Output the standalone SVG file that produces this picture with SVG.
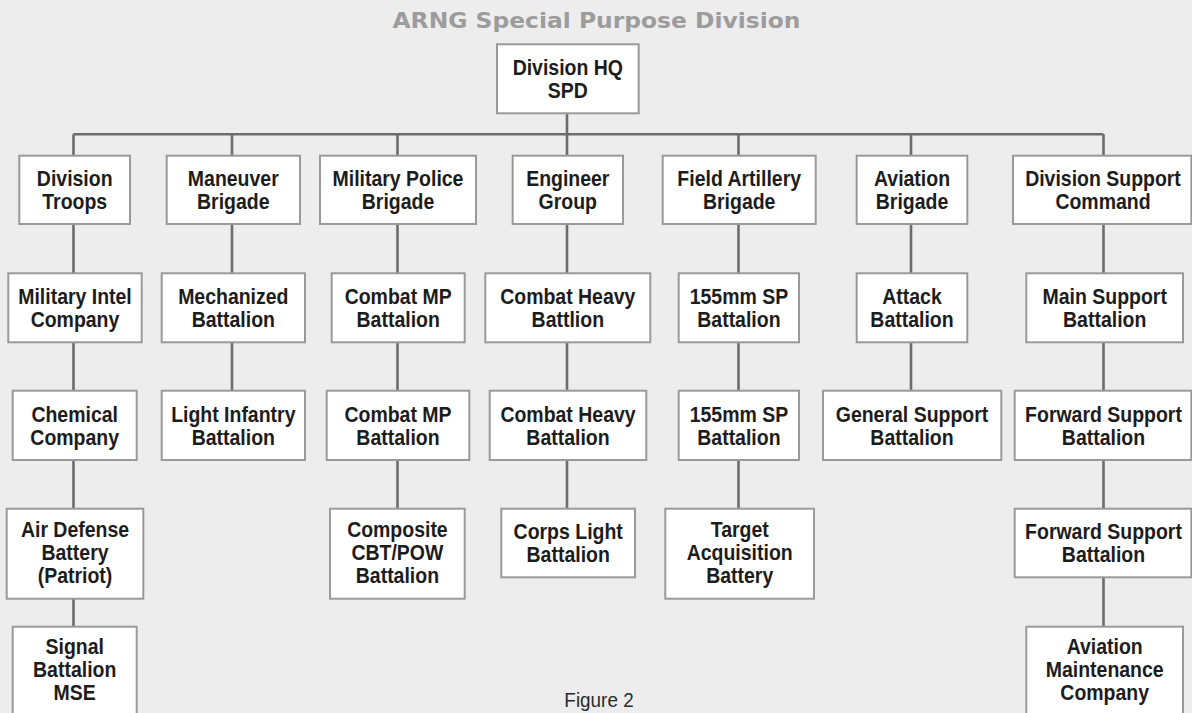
<svg xmlns="http://www.w3.org/2000/svg" width="1192" height="713" viewBox="0 0 1192 713">
<style>
.bg{fill:#ededed}
.box{fill:#ffffff;stroke:#9a9a9a;stroke-width:2}
.lbl{font-family:"Liberation Sans",Arial,Helvetica,sans-serif;font-weight:bold;font-size:22px;fill:#1c1c1c;text-anchor:middle}
.conn{stroke:#6c6c6c;stroke-width:2.6;fill:none}
.title{font-family:"DejaVu Sans","Liberation Sans",sans-serif;font-weight:bold;font-size:22px;fill:#9c9c9c;text-anchor:middle}
.fig{font-family:"Liberation Sans",Arial,sans-serif;font-size:21px;fill:#2a2a2a;text-anchor:middle}
</style>
<rect class="bg" x="0" y="0" width="1192" height="713"/>
<text class="title" x="596.5" y="27.5" textLength="408" lengthAdjust="spacingAndGlyphs">ARNG Special Purpose Division</text>

<g id="connectors">
  <path class="conn" d="M567 113.3V134.3M73.5 134.3H1103.5"/>
  <path class="conn" d="M73.5 134.3V155.7M232 134.3V155.7M397.5 134.3V155.7M567 134.3V155.7M738.5 134.3V155.7M911 134.3V155.7M1103.5 134.3V155.7"/>
  <path class="conn" d="M73.5 224V273.3M73.5 342.3V390.7M73.5 460V508.7M73.5 598.7V626.7"/>
  <path class="conn" d="M232 224V273.3M232 342.3V390.7"/>
  <path class="conn" d="M397.5 224V273.3M397.5 342.3V390.7M397.5 460V508.7"/>
  <path class="conn" d="M567 224V273.3M567 342.3V390.7M567 460V508.7"/>
  <path class="conn" d="M738.5 224V273.3M738.5 342.3V390.7M738.5 460V508.7"/>
  <path class="conn" d="M911 224V273.3M911 342.3V390.7"/>
  <path class="conn" d="M1103.5 224V273.3M1103.5 342.3V390.7M1103.5 460V508.7M1103.5 577.3V626.7"/>
</g>

<g id="division-hq">
  <rect class="box" x="497" y="44.3" width="141.7" height="69"/>
  <text class="lbl" transform="translate(567.8 0) scale(0.885 1)"><tspan x="0" y="75.5">Division HQ</tspan><tspan x="0" y="98.5">SPD</tspan></text>
</g>

<g id="division-troops">
  <rect class="box" x="19.3" y="155.7" width="110.7" height="68.3"/>
  <text class="lbl" transform="translate(74.7 0) scale(0.885 1)"><tspan x="0" y="186.2">Division</tspan><tspan x="0" y="209.2">Troops</tspan></text>
</g>
<g id="maneuver-brigade">
  <rect class="box" x="166.7" y="155.7" width="133.3" height="68.3"/>
  <text class="lbl" transform="translate(233.3 0) scale(0.885 1)"><tspan x="0" y="186.2">Maneuver</tspan><tspan x="0" y="209.2">Brigade</tspan></text>
</g>
<g id="mp-brigade">
  <rect class="box" x="320" y="155.7" width="156" height="68.3"/>
  <text class="lbl" transform="translate(398 0) scale(0.885 1)"><tspan x="0" y="186.2">Military Police</tspan><tspan x="0" y="209.2">Brigade</tspan></text>
</g>
<g id="engineer-group">
  <rect class="box" x="512.7" y="155.7" width="110.3" height="68.3"/>
  <text class="lbl" transform="translate(567.8 0) scale(0.885 1)"><tspan x="0" y="186.2">Engineer</tspan><tspan x="0" y="209.2">Group</tspan></text>
</g>
<g id="fa-brigade">
  <rect class="box" x="662.7" y="155.7" width="153" height="68.3"/>
  <text class="lbl" transform="translate(739.2 0) scale(0.885 1)"><tspan x="0" y="186.2">Field Artillery</tspan><tspan x="0" y="209.2">Brigade</tspan></text>
</g>
<g id="aviation-brigade">
  <rect class="box" x="856.7" y="155.7" width="110.6" height="68.3"/>
  <text class="lbl" transform="translate(912 0) scale(0.885 1)"><tspan x="0" y="186.2">Aviation</tspan><tspan x="0" y="209.2">Brigade</tspan></text>
</g>
<g id="discom">
  <rect class="box" x="1013" y="155.7" width="178.3" height="68.3"/>
  <text class="lbl" transform="translate(1103 0) scale(0.885 1)"><tspan x="0" y="186.2">Division Support</tspan><tspan x="0" y="209.2">Command</tspan></text>
</g>

<g id="mi-company">
  <rect class="box" x="8.3" y="273.3" width="133.4" height="69"/>
  <text class="lbl" transform="translate(75 0) scale(0.885 1)"><tspan x="0" y="304.2">Military Intel</tspan><tspan x="0" y="327.2">Company</tspan></text>
</g>
<g id="mech-battalion">
  <rect class="box" x="161.7" y="273.3" width="143.3" height="69"/>
  <text class="lbl" transform="translate(233.3 0) scale(0.885 1)"><tspan x="0" y="304.2">Mechanized</tspan><tspan x="0" y="327.2">Battalion</tspan></text>
</g>
<g id="combat-mp-1">
  <rect class="box" x="331.7" y="273.3" width="133" height="69"/>
  <text class="lbl" transform="translate(398.2 0) scale(0.885 1)"><tspan x="0" y="304.2">Combat MP</tspan><tspan x="0" y="327.2">Battalion</tspan></text>
</g>
<g id="combat-heavy-1">
  <rect class="box" x="485.3" y="273.3" width="165" height="69"/>
  <text class="lbl" transform="translate(567.8 0) scale(0.885 1)"><tspan x="0" y="304.2">Combat Heavy</tspan><tspan x="0" y="327.2">Battlion</tspan></text>
</g>
<g id="sp155-1">
  <rect class="box" x="678.7" y="273.3" width="120.3" height="69"/>
  <text class="lbl" transform="translate(738.9 0) scale(0.885 1)"><tspan x="0" y="304.2">155mm SP</tspan><tspan x="0" y="327.2">Battalion</tspan></text>
</g>
<g id="attack-battalion">
  <rect class="box" x="856.7" y="273.3" width="110.6" height="69"/>
  <text class="lbl" transform="translate(912 0) scale(0.885 1)"><tspan x="0" y="304.2">Attack</tspan><tspan x="0" y="327.2">Battalion</tspan></text>
</g>
<g id="main-support">
  <rect class="box" x="1026.3" y="273.3" width="156.7" height="69"/>
  <text class="lbl" transform="translate(1104.7 0) scale(0.885 1)"><tspan x="0" y="304.2">Main Support</tspan><tspan x="0" y="327.2">Battalion</tspan></text>
</g>

<g id="chemical-company">
  <rect class="box" x="12.7" y="390.7" width="124" height="69.3"/>
  <text class="lbl" transform="translate(74.7 0) scale(0.885 1)"><tspan x="0" y="421.7">Chemical</tspan><tspan x="0" y="444.7">Company</tspan></text>
</g>
<g id="light-infantry">
  <rect class="box" x="161.7" y="390.7" width="143.3" height="69.3"/>
  <text class="lbl" transform="translate(233.3 0) scale(0.885 1)"><tspan x="0" y="421.7">Light Infantry</tspan><tspan x="0" y="444.7">Battalion</tspan></text>
</g>
<g id="combat-mp-2">
  <rect class="box" x="326.7" y="390.7" width="142.6" height="69.3"/>
  <text class="lbl" transform="translate(398 0) scale(0.885 1)"><tspan x="0" y="421.7">Combat MP</tspan><tspan x="0" y="444.7">Battalion</tspan></text>
</g>
<g id="combat-heavy-2">
  <rect class="box" x="489.7" y="390.7" width="156.6" height="69.3"/>
  <text class="lbl" transform="translate(568 0) scale(0.885 1)"><tspan x="0" y="421.7">Combat Heavy</tspan><tspan x="0" y="444.7">Battalion</tspan></text>
</g>
<g id="sp155-2">
  <rect class="box" x="678.7" y="390.7" width="120.3" height="69.3"/>
  <text class="lbl" transform="translate(738.9 0) scale(0.885 1)"><tspan x="0" y="421.7">155mm SP</tspan><tspan x="0" y="444.7">Battalion</tspan></text>
</g>
<g id="general-support">
  <rect class="box" x="823" y="390.7" width="178.3" height="69.3"/>
  <text class="lbl" transform="translate(912 0) scale(0.885 1)"><tspan x="0" y="421.7">General Support</tspan><tspan x="0" y="444.7">Battalion</tspan></text>
</g>
<g id="forward-support-1">
  <rect class="box" x="1014.7" y="390.7" width="176.6" height="69.3"/>
  <text class="lbl" transform="translate(1103.5 0) scale(0.885 1)"><tspan x="0" y="421.7">Forward Support</tspan><tspan x="0" y="444.7">Battalion</tspan></text>
</g>

<g id="air-defense">
  <rect class="box" x="6.7" y="508.7" width="136.6" height="90"/>
  <text class="lbl" transform="translate(75 0) scale(0.885 1)"><tspan x="0" y="537.5">Air Defense</tspan><tspan x="0" y="560.5">Battery</tspan><tspan x="0" y="583.5">(Patriot)</tspan></text>
</g>
<g id="composite">
  <rect class="box" x="330" y="508.7" width="134.7" height="90"/>
  <text class="lbl" transform="translate(397.4 0) scale(0.885 1)"><tspan x="0" y="537.5">Composite</tspan><tspan x="0" y="560.5">CBT/POW</tspan><tspan x="0" y="583.5">Battalion</tspan></text>
</g>
<g id="corps-light">
  <rect class="box" x="501.3" y="508.7" width="133.7" height="68.6"/>
  <text class="lbl" transform="translate(568.2 0) scale(0.885 1)"><tspan x="0" y="539.4">Corps Light</tspan><tspan x="0" y="562.4">Battalion</tspan></text>
</g>
<g id="target-acquisition">
  <rect class="box" x="665.3" y="508.7" width="148.7" height="90"/>
  <text class="lbl" transform="translate(739.7 0) scale(0.885 1)"><tspan x="0" y="537.5">Target</tspan><tspan x="0" y="560.5">Acquisition</tspan><tspan x="0" y="583.5">Battery</tspan></text>
</g>
<g id="forward-support-2">
  <rect class="box" x="1014.7" y="508.7" width="176.6" height="68.6"/>
  <text class="lbl" transform="translate(1103.5 0) scale(0.885 1)"><tspan x="0" y="539.4">Forward Support</tspan><tspan x="0" y="562.4">Battalion</tspan></text>
</g>

<g id="signal-battalion">
  <rect class="box" x="12.7" y="626.7" width="124" height="100"/>
  <text class="lbl" transform="translate(74.7 0) scale(0.885 1)"><tspan x="0" y="653.7">Signal</tspan><tspan x="0" y="676.7">Battalion</tspan><tspan x="0" y="699.7">MSE</tspan></text>
</g>
<g id="aviation-maintenance">
  <rect class="box" x="1026.3" y="626.7" width="156.7" height="100"/>
  <text class="lbl" transform="translate(1104.7 0) scale(0.885 1)"><tspan x="0" y="653.7">Aviation</tspan><tspan x="0" y="676.7">Maintenance</tspan><tspan x="0" y="699.7">Company</tspan></text>
</g>

<text class="fig" transform="translate(599 0) scale(0.9 1)" x="0" y="707.5">Figure 2</text>
</svg>
